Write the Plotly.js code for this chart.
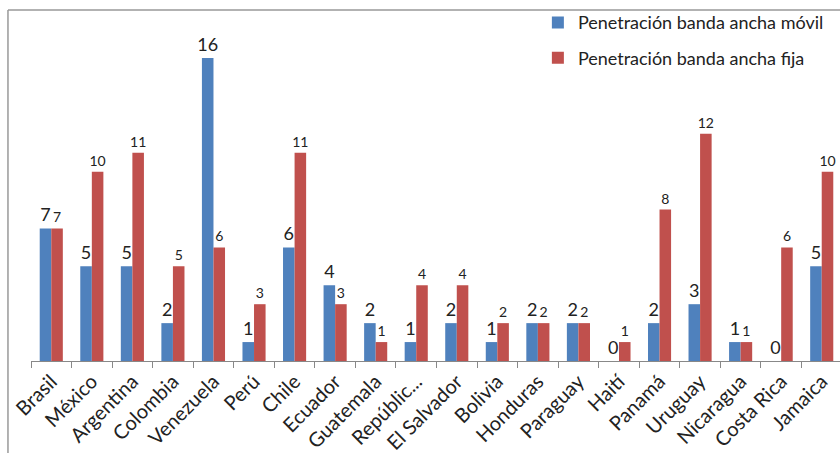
<!DOCTYPE html>
<html>
<head>
<meta charset="utf-8">
<script src="https://cdn.plot.ly/plotly-3.0.1.min.js"></script>
<style>
html,body{margin:0;padding:0;overflow:hidden;background:#fff;}
#chart{width:880px;height:493px;position:absolute;left:0;top:-40px;}
</style>
</head>
<body>
<div id="chart"></div>
<script>
var countries = ["Brasil","México","Argentina","Colombia","Venezuela","Perú","Chile","Ecuador","Guatemala","Repúblic...","El Salvador","Bolivia","Honduras","Paraguay","Haití","Panamá","Uruguay","Nicaragua","Costa Rica","Jamaica"];
var movil = [7,5,5,2,16,1,6,4,2,1,2,1,2,2,0,2,3,1,0,5];
var fija  = [7,10,11,5,6,3,11,3,1,4,4,2,2,2,1,8,12,1,6,10];
var seriesNames = ["Penetración banda ancha móvil","Penetración banda ancha fija"];

var FONT = "Lato, Carlito, 'Liberation Sans', sans-serif";

var traces = [
  {
    type: "bar", x: countries, y: movil, name: seriesNames[0],
    marker: {color: "#4F81BD"},
    text: movil.map(String), textposition: "outside", constraintext: "none",
    textfont: {family: FONT, size: 18, color: "#222"},
    cliponaxis: false, legendgroup: "a"
  },
  {
    type: "bar", x: countries, y: fija, name: seriesNames[1],
    marker: {color: "#C0504D"},
    text: fija.map(String), textposition: "outside", constraintext: "none",
    textfont: {family: FONT, size: 14, color: "#222"},
    cliponaxis: false, legendgroup: "b"
  }
];

var layout = {
  width: 880, height: 493,
  margin: {l: 31, r: 38, t: 70, b: 92},
  paper_bgcolor: "#fff", plot_bgcolor: "#fff",
  font: {family: FONT, color: "#222"},
  barmode: "group", bargap: 0.43, bargroupgap: 0,
  showlegend: true,
  legend: {
    x: 0.625, y: 1.078, xanchor: "left", yanchor: "top",
    font: {family: FONT, size: 18, color: "#222"},
    traceorder: "grouped", tracegroupgap: 9,
    bgcolor: "rgba(0,0,0,0)"
  },
  xaxis: {
    type: "category", tickangle: -45, tickson: "boundaries",
    ticks: "outside", ticklen: 6, tickcolor: "#888",
    showline: true, linecolor: "#888", linewidth: 1,
    tickfont: {family: FONT, size: 20, color: "#222"},
    showgrid: false, zeroline: false, fixedrange: true, automargin: false
  },
  yaxis: {
    range: [0, 17.48], visible: false, showgrid: false, zeroline: false, automargin: false
  },
  shapes: [
    {type: "line", xref: "paper", yref: "paper", x0: -0.0284, x1: 1.05, y0: 1.0604, y1: 1.0604, line: {color: "#999", width: 1.5}},
    {type: "line", xref: "paper", yref: "paper", x0: -0.0284, x1: -0.0284, y0: 1.0604, y1: -0.3, line: {color: "#999", width: 1.5}}
  ]
};

Plotly.newPlot("chart", traces, layout, {displayModeBar: false, staticPlot: true});
</script>
</body>
</html>
